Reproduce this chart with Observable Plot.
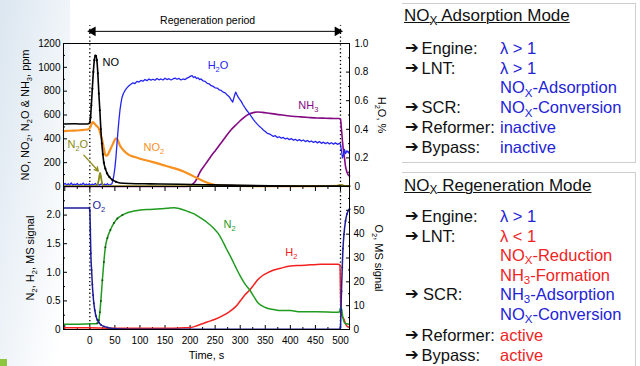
<!DOCTYPE html>
<html><head><meta charset="utf-8">
<script src="https://cdn.jsdelivr.net/npm/d3@7"></script>
<script src="https://cdn.jsdelivr.net/npm/@observablehq/plot@0.6"></script>
<style>
html,body{margin:0;padding:0;background:#fff;}
#wrap{position:relative;width:640px;height:366px;overflow:hidden;font-family:"Liberation Sans",Arial,sans-serif;}
#wrap svg{position:absolute;left:0;top:0;}
.bg{position:absolute;left:0;top:0;width:70px;height:366px;background:linear-gradient(100deg,#dbe6f0 0%,rgba(255,255,255,0) 90%);}
.green{position:absolute;left:0;top:359px;width:7px;height:7px;background:#8cc63f;}
.panel{position:absolute;left:402px;top:0;width:238px;height:366px;overflow:hidden;}
.box{position:absolute;border:1px solid #cfcfcf;left:-10px;width:242px;}
.ln{position:absolute;white-space:nowrap;font-size:16.5px;line-height:20px;color:#111;}
.ttl{font-size:17px;text-decoration:underline;text-decoration-thickness:1px;}
.sub{font-size:70%;position:relative;top:0.3em;}
.arr{font-family:"DejaVu Sans",sans-serif;font-size:16.5px;font-weight:bold;}
</style>
</head><body>
<div id="wrap">
  <div class="bg"></div>
  <div class="green"></div>
  <div class="panel" id="panel">
    <div class="box" style="top:3px;height:158px;"></div>
    <div class="box" style="top:172px;height:220px;"></div>
  </div>
</div>
<script>
// ---------------- data ----------------
const xDomain = [-52.5, 518];
const timeMajor = [-50, 0, 50, 100, 150, 200, 250, 300, 350, 400, 450, 500];
const timeLabels = [0, 50, 100, 150, 200, 250, 300, 350, 400, 450, 500];
const timeMinor = [-25, 25, 75, 125, 175, 225, 275, 325, 375, 425, 475];
const ppmTicks = [0, 200, 400, 600, 800, 1000, 1200];
const ppmMinor = [100, 300, 500, 700, 900, 1100];
const h2oTicks = [0, 0.2, 0.4, 0.6, 0.8, 1.0];
const h2oMinor = [0.1, 0.3, 0.5, 0.7, 0.9];
const msTicks = [0, 0.5, 1.0, 1.5, 2.0];
const msMinor = [0.25, 0.75, 1.25, 1.75, 2.25];
const o2Ticks = [0, 10, 20, 30, 40, 50];
const o2Minor = [5, 15, 25, 35, 45, 55];
const H2O_TO_PPM = 1200;   // right axis 0..1.0 % shares the 0..1200 ppm frame
const O2_TO_MS = 1 / 24;   // right axis 0..60 shares the 0..2.5 frame

// [time s, ppm]
const NO = [[-52,525],[-30,526],[-10,524],[-2,526],[0,540],[1.5,580],[3,680],[5,820],[7,960],[9,1060],[11,1098],[12.5,1095],[14,1060],[16,950],[18,780],[20,640],[22,480],[24,360],[26,270],[28,200],[31,150],[34.5,110],[39,80],[45,55],[52,40],[60,30],[80,25],[120,22],[180,19],[240,14],[300,10],[360,6],[420,4],[480,3],[500,3],[505,2],[518,2]];
const NO2 = [[-52,465],[-40,468],[-20,472],[-5,478],[0,490],[3,520],[6,540],[9,530],[13,510],[18,486],[22,430],[25,380],[28,320],[31,265],[34,258],[38,285],[43,330],[48,375],[52,405],[55,395],[60,345],[68,300],[78,265],[88,249],[100,233],[124,207],[154,170],[187,126],[207,85],[227,45],[241,22],[254,10],[280,5],[350,3],[450,3],[500,5],[510,4],[518,3]];
const N2O = [[-52,3],[10,3],[15,10],[18,60],[20.5,115],[23,60],[26,10],[30,3],[200,3],[350,3],[490,3],[500,14],[505,9],[510,3],[518,3]];
const NH3 = [[-52,0],[190,0],[197,3],[210,40],[221,130],[231,190],[241,250],[251,305],[261,360],[271,418],[281,472],[291,515],[301,556],[309,585],[317,606],[326,620],[334,625],[344,622],[354,617],[370,607],[387,598],[403,590],[420,584],[437,579],[453,575],[470,573],[487,571],[497,570],[500,565],[502,480],[504,380],[506,300],[508,240],[510,170],[513,120],[516,95],[518,88]];
// [time s, H2O %]
const H2O = [[-52,.014],[-49,.022],[-46,.009],[-43,.019],[-40,.011],[-37,.025],[-34,.008],[-31,.017],[-28,.012],[-25,.021],[-22,.007],[-19,.016],[-16,.013],[-13,.024],[-10,.009],[-7,.018],[-4,.011],[-1,.02],[2,.008],[5,.017],[8,.012],[11,.022],[14,.009],[17,.015],[20,.01],[23,.019],[26,.008],[29,.016],[32,.011],[35,.02],[38,.009],[41,.014],[44,.018],[46,.04],[48,.08],[50,.13],[52,.2],[54,.29],[56,.38],[58,.46],[60,.53],[62,.58],[64,.62],[67,.65],[70,.67],[74,.69],[78,.705],[82,.715],[86,.725],[90,.72],[94,.735],[98,.73],[102,.742],[106,.736],[110,.748],[114,.74],[118,.752],[122,.744],[126,.75],[130,.743],[134,.755],[138,.746],[142,.752],[146,.745],[150,.757],[154,.748],[158,.754],[162,.745],[166,.752],[170,.758],[174,.75],[178,.756],[182,.745],[186,.752],[190,.748],[194,.758],[198,.765],[201,.772],[204,.775],[207,.762],[210,.768],[213,.755],[216,.76],[219,.748],[222,.752],[226,.738],[230,.735],[234,.722],[238,.718],[242,.705],[246,.7],[250,.69],[254,.688],[258,.676],[262,.672],[266,.66],[270,.655],[274,.64],[278,.628],[282,.605],[285,.59],[287,.615],[289,.64],[291,.66],[293,.645],[296,.625],[299,.61],[302,.595],[305,.575],[308,.558],[311,.542],[314,.528],[317,.515],[320,.5],[323,.485],[326,.47],[330,.452],[334,.436],[338,.422],[342,.41],[346,.395],[350,.385],[354,.372],[358,.368],[362,.36],[366,.35],[370,.355],[374,.342],[378,.348],[382,.338],[386,.343],[390,.332],[394,.338],[398,.328],[402,.335],[406,.324],[410,.33],[414,.32],[418,.328],[422,.318],[426,.325],[430,.314],[434,.322],[438,.312],[442,.318],[446,.308],[450,.316],[454,.305],[458,.314],[462,.302],[466,.31],[470,.3],[474,.308],[478,.298],[482,.306],[486,.296],[490,.305],[494,.295],[498,.302],[500,.295],[502,.25],[504,.2],[506,.22],[508,.26],[510,.23],[513,.25],[516,.235],[518,.25]];
// [time s, MS signal]
const N2 = [[-52,.09],[-30,.09],[-10,.095],[0,.1],[10,.1],[15,.11],[18,.16],[20,.3],[22,.5],[25,.86],[28,1.18],[31,1.44],[35,1.6],[41,1.74],[48,1.86],[55,1.94],[65,2.0],[75,2.04],[88,2.07],[101,2.09],[120,2.1],[140,2.11],[154,2.12],[168,2.13],[180,2.11],[194,2.07],[208,2.02],[221,1.95],[234,1.87],[247,1.77],[256,1.68],[264,1.56],[272,1.42],[281,1.27],[291,1.09],[301,.92],[310,.79],[319,.69],[327,.58],[334,.48],[342,.42],[354,.37],[367,.35],[380,.33],[400,.33],[420,.31],[453,.31],[493,.3],[498,.31],[500,.38],[502,.36],[505,.2],[508,.12],[512,.1],[518,.09]];
const H2 = [[-52,.03],[0,.03],[50,.02],[100,.02],[150,.02],[190,.03],[201,.035],[215,.07],[234,.13],[250,.18],[267,.25],[278,.31],[287,.37],[294,.43],[301,.51],[310,.61],[319,.69],[327,.78],[334,.86],[344,.94],[354,.99],[367,1.04],[380,1.07],[400,1.11],[420,1.12],[440,1.13],[460,1.14],[480,1.14],[495,1.14],[499,1.13],[500,.7],[501,.3],[504,.22],[507,.18],[510,.1],[514,.05],[518,.04]];
// [time s, O2 MS signal (right axis)]
const O2 = [[-52,51],[-1,51],[0,50],[1,42],[2,32],[3.5,25],[5,19],[6.5,14.5],[8,11],[10,8],[12,5.8],[15,4],[18,3],[22,2],[28,1.3],[35,.8],[45,.4],[60,.2],[100,.1],[200,.1],[300,.1],[400,.1],[498,.1],[500,1],[501,8],[502,16],[503.5,26],[505,34],[507,40],[510,45.5],[513,48.5],[516,50],[518,50.5]];

const colors = {NO:"#000000", NO2:"#f7901e", N2O:"#8a8a16", NH3:"#840a84", H2O:"#2424f2", O2:"#1c1c96", N2:"#1f9b1f", H2:"#f42020"};

const topLabels = [
  {text:"NO", t:25.5, v:1041, c:colors.NO},
  {text:"H_2O", t:235, v:1016, c:colors.H2O},
  {text:"NO_2", t:107, v:330, c:colors.NO2},
  {text:"NH_3", t:416, v:681, c:colors.NH3},
  {text:"N_2O", t:-44.5, v:355, c:colors.N2O}
];
const bottomLabels = [
  {text:"O_2", t:5.4, v:2.175, c:colors.O2},
  {text:"N_2", t:266.7, v:1.84, c:colors.N2},
  {text:"H_2", t:390, v:1.35, c:colors.H2}
];
const regen = {start:0, end:500, label:"Regeneration period", labelT:235, labelPpm:1392, arrowPpm:1302, dottedTopPpm:1350};
const n2oArrow = [{x1:-12, y1:263, x2:16.8, y2:130}];

const adsorptionRows = [
  [true,"Engine:","λ > 1","b"],[true,"LNT:","λ > 1","b"],[false,"","NO_X-Adsorption","b"],
  [true,"SCR:","NO_X-Conversion","b"],[true,"Reformer:","inactive","b"],[true,"Bypass:","inactive","b"]];
const adsorptionY = [48.3, 68.3, 87.3, 107.3, 127.3, 146.7];
const regenRows = [
  [true,"Engine:","λ > 1","b"],[true,"LNT:","λ < 1","r"],[false,"","NO_X-Reduction","r"],[false,"","NH_3-Formation","r"],
  [true,"SCR:","NH_3-Adsorption","b"],[false,"","NO_X-Conversion","b"],[true,"Reformer:","active","r"],[true,"Bypass:","active","r"]];
const regenY = [215.8, 235.5, 255, 274.5, 294, 314, 335, 355];

// ---------------- helpers ----------------
const X = d => d[0], Y = d => d[1];
const fmt1 = d => Math.abs(d) < 1e-9 ? "0" : d.toFixed(1);
const font = "Liberation Sans, Arial, Helvetica, sans-serif";
const dots = "1.3,2.6";

function subify(root) {
  root.querySelectorAll("text").forEach(el => {
    const s = el.textContent;
    if (!s.includes("_")) return;
    const fs = parseFloat(getComputedStyle(el).fontSize) || 10;
    const shift = fs * 0.3;
    el.textContent = "";
    let down = false;
    for (const p of s.split(/(_.)/).filter(Boolean)) {
      const ts = document.createElementNS("http://www.w3.org/2000/svg", "tspan");
      if (p[0] === "_") {
        ts.textContent = p.slice(1);
        ts.setAttribute("font-size", (fs * 0.68).toFixed(2));
        if (!down) ts.setAttribute("dy", shift);
        down = true;
      } else {
        ts.textContent = p;
        if (down) ts.setAttribute("dy", -shift);
        down = false;
      }
      el.appendChild(ts);
    }
  });
}

// ---------------- top panel ----------------
const topPlot = Plot.plot({
  width: 400, height: 190,
  marginLeft: 63, marginRight: 51, marginTop: 43, marginBottom: 4,
  style: {background: "transparent", fontFamily: font, fontSize: "10px", overflow: "visible", color: "#000"},
  x: {domain: xDomain, axis: null},
  y: {domain: [0, 1200]},
  marks: [
    Plot.axisY(ppmTicks, {anchor: "left", tickSize: -4, fill: "none", label: null}),
    Plot.axisY(ppmMinor, {anchor: "left", tickSize: -2, fill: "none", label: null}),
    Plot.axisY(ppmTicks, {anchor: "left", tickSize: 0, tickPadding: 3, label: null, tickFormat: d => String(d)}),
    Plot.axisY(h2oTicks.map(v => v * H2O_TO_PPM), {anchor: "right", tickSize: -4, fill: "none", label: null}),
    Plot.axisY(h2oMinor.map(v => v * H2O_TO_PPM), {anchor: "right", tickSize: -2, fill: "none", label: null}),
    Plot.axisY(h2oTicks.map(v => v * H2O_TO_PPM), {anchor: "right", tickSize: 0, tickPadding: 5, label: null, tickFormat: d => fmt1(d / H2O_TO_PPM)}),
    Plot.ruleX([regen.start, regen.end], {y1: 0, y2: regen.dottedTopPpm, stroke: "#000", strokeWidth: 1.3, strokeDasharray: dots}),
    Plot.ruleY([regen.arrowPpm], {x1: regen.start, x2: regen.end, stroke: "#000", strokeWidth: 1}),
    Plot.dot([regen.start], {x: d => d, y: regen.arrowPpm, symbol: "triangle", rotate: -90, r: 3.6, fill: "#000", stroke: "none", dx: 3}),
    Plot.dot([regen.end], {x: d => d, y: regen.arrowPpm, symbol: "triangle", rotate: 90, r: 3.6, fill: "#000", stroke: "none", dx: -3}),
    Plot.text([regen.label], {x: regen.labelT, y: regen.labelPpm, fontSize: 10.5, fill: "#000"}),
    Plot.line(NH3, {x: X, y: Y, stroke: colors.NH3, strokeWidth: 1.6, curve: "monotone-x"}),
    Plot.line(NO2, {x: X, y: Y, stroke: colors.NO2, strokeWidth: 2.2, curve: "monotone-x"}),
    Plot.line(H2O, {x: X, y: d => d[1] * H2O_TO_PPM, stroke: colors.H2O, strokeWidth: 1.3}),
    Plot.line(N2O, {x: X, y: Y, stroke: colors.N2O, strokeWidth: 1.8, curve: "monotone-x"}),
    Plot.line(NO, {x: X, y: Y, stroke: colors.NO, strokeWidth: 1.6, curve: "monotone-x"}),
    Plot.dot(NO.filter(d => d[0] > -2 && d[0] < 60), {x: X, y: Y, r: 1.1, fill: colors.NO, stroke: "none"}),
    Plot.arrow(n2oArrow, {x1: "x1", y1: "y1", x2: "x2", y2: "y2", stroke: colors.N2O, strokeWidth: 1.3, headLength: 5}),
    Plot.text(topLabels, {x: "t", y: "v", text: "text", fill: "c", textAnchor: "start", fontSize: 11}),
    Plot.text(["NO, NO_2, N_2O & NH_3, ppm"], {frameAnchor: "left", textAnchor: "middle", dx: -38, rotate: -90, fontSize: 11, fill: "#000"}),
    Plot.text(["H_2O, %"], {frameAnchor: "right", textAnchor: "middle", dx: 32, rotate: 90, fontSize: 11, fill: "#000"}),
    Plot.frame({stroke: "#000", strokeWidth: 1})
  ]
});

// ---------------- bottom panel ----------------
const botPlot = Plot.plot({
  width: 400, height: 366,
  marginLeft: 63, marginRight: 51, marginTop: 186, marginBottom: 37,
  style: {background: "transparent", fontFamily: font, fontSize: "10px", overflow: "visible", color: "#000"},
  x: {domain: xDomain},
  y: {domain: [0, 2.5]},
  marks: [
    Plot.axisY(msTicks, {anchor: "left", tickSize: -4, fill: "none", label: null}),
    Plot.axisY(msMinor, {anchor: "left", tickSize: -2, fill: "none", label: null}),
    Plot.axisY(msTicks, {anchor: "left", tickSize: 0, tickPadding: 3, label: null, tickFormat: fmt1}),
    Plot.axisY(o2Ticks.map(v => v * O2_TO_MS), {anchor: "right", tickSize: -4, fill: "none", label: null}),
    Plot.axisY(o2Minor.map(v => v * O2_TO_MS), {anchor: "right", tickSize: -2, fill: "none", label: null}),
    Plot.axisY(o2Ticks.map(v => v * O2_TO_MS), {anchor: "right", tickSize: 0, tickPadding: 4, label: null, tickFormat: d => String(Math.round(d / O2_TO_MS))}),
    Plot.axisX(timeMajor, {anchor: "bottom", tickSize: -4, fill: "none", label: null}),
    Plot.axisX(timeMinor, {anchor: "bottom", tickSize: -2, fill: "none", label: null}),
    Plot.axisX(timeLabels, {anchor: "bottom", tickSize: 0, tickPadding: 7, label: null, tickFormat: d => String(d)}),
    Plot.axisX(timeMajor, {anchor: "top", tickSize: -4, fill: "none", label: null}),
    Plot.axisX(timeMinor, {anchor: "top", tickSize: -2, fill: "none", label: null}),
    Plot.ruleX([regen.start, regen.end], {y1: 0, y2: 2.5, stroke: "#000", strokeWidth: 1.3, strokeDasharray: dots}),
    Plot.line(H2, {x: X, y: Y, stroke: colors.H2, strokeWidth: 1.5, curve: "monotone-x"}),
    Plot.line(N2, {x: X, y: Y, stroke: colors.N2, strokeWidth: 1.5, curve: "monotone-x"}),
    Plot.dot(N2.filter(d => d[0] > 14 && d[0] < 70), {x: X, y: Y, r: 1, fill: "#145214", stroke: "none"}),
    Plot.line(O2, {x: X, y: d => d[1] * O2_TO_MS, stroke: colors.O2, strokeWidth: 1.5, curve: "monotone-x"}),
    Plot.dot(O2.filter(d => (d[0] > -2 && d[0] < 40) || d[0] > 498), {x: X, y: d => d[1] * O2_TO_MS, r: 1, fill: colors.O2, stroke: "none"}),
    Plot.text(bottomLabels, {x: "t", y: "v", text: "text", fill: "c", textAnchor: "start", fontSize: 11}),
    Plot.text(["N_2, H_2, MS signal"], {frameAnchor: "left", textAnchor: "middle", dx: -33, rotate: -90, fontSize: 11, fill: "#000"}),
    Plot.text(["O_2, MS signal"], {frameAnchor: "right", textAnchor: "middle", dx: 29, rotate: 90, fontSize: 11, fill: "#000"}),
    Plot.text(["Time, s"], {frameAnchor: "bottom", dy: 29, fontSize: 11, fill: "#000"}),
    Plot.frame({stroke: "#000", strokeWidth: 1})
  ]
});

const wrap = document.getElementById("wrap");
wrap.appendChild(topPlot);
wrap.appendChild(botPlot);
subify(topPlot);
subify(botPlot);

// ---------------- right text panel ----------------
const panel = document.getElementById("panel");
const PX = 402;
const blue = "#2323d6", red = "#f02424";
function html(s) { return s.replace(/_(.)/g, '<span class="sub">$1</span>'); }
function addLine(left, centerY, inner, extraClass, color) {
  const d = document.createElement("div");
  d.className = "ln" + (extraClass ? " " + extraClass : "");
  d.style.left = (left - PX) + "px";
  d.style.top = (centerY - 10) + "px";
  if (color) d.style.color = color;
  d.innerHTML = inner;
  panel.appendChild(d);
}
function addBlock(title, titleY, rows, ys) {
  addLine(404, titleY, html(title), "ttl");
  rows.forEach((r, i) => {
    const [arrow, label, value, c] = r;
    if (arrow) addLine(405, ys[i], "➔", "arr");
    if (label) addLine(label === "SCR:" && ys === regenY ? 423 : 421.5, ys[i], label);
    addLine(500, ys[i], html(value), "", c === "b" ? blue : red);
  });
}
addBlock("NO_X Adsorption Mode", 16, adsorptionRows, adsorptionY);
addBlock("NO_X Regeneration Mode", 185.7, regenRows, regenY);
</script>
</body></html>
